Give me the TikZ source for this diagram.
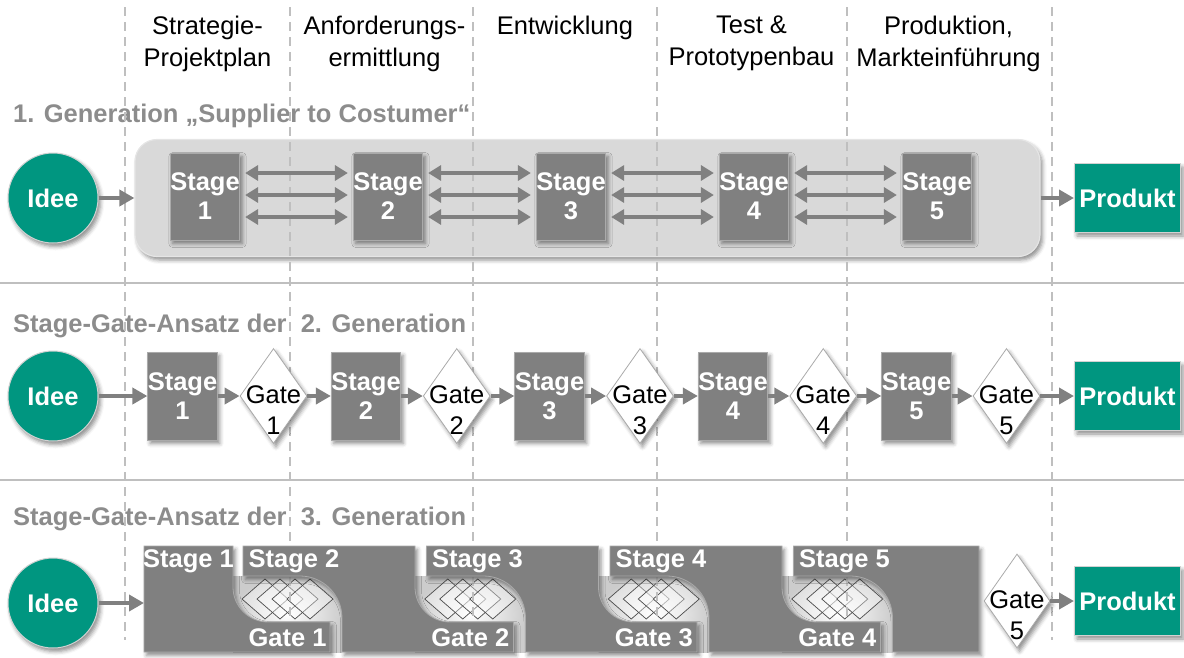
\documentclass[tikz,border=0pt]{standalone}
\usepackage{fontspec}
\setmainfont{Liberation Sans}
\usetikzlibrary{arrows.meta,shapes.geometric,shadows.blur}

\definecolor{teal1}{RGB}{0,150,128}
\definecolor{boxgray}{RGB}{128,128,128}
\definecolor{edgegray}{RGB}{170,170,170}
\definecolor{guidegray}{RGB}{191,191,191}
\definecolor{titlegray}{RGB}{140,140,140}

\newcommand\bigfont{\fontsize{25.5}{31}\selectfont}
\newcommand\boxfont{\fontsize{25.5}{29}\selectfont}
\newcommand\headfont{\fontsize{25.5}{32}\selectfont}

\tikzset{
  softshadow/.style={blur shadow={shadow xshift=2.5pt,shadow yshift=-3.5pt,
      shadow blur radius=4pt,shadow opacity=45}},
  ideenode/.style={circle,fill=teal1,draw=gray!35,line width=1pt,minimum size=90pt,
      inner sep=0pt,text=white,font=\bfseries\bigfont,softshadow},
  prodnode/.style={rectangle,fill=teal1,draw=gray!35,line width=1pt,minimum width=106pt,
      minimum height=69pt,inner sep=0pt,text=white,font=\bfseries\bigfont,softshadow},
  stagebox/.style={rectangle,fill=boxgray,draw=edgegray,line width=0.8pt,minimum width=68pt,
      minimum height=87pt,inner sep=0pt,text=white,font=\bfseries\boxfont,align=center,softshadow},
  gatebox/.style={diamond,fill=white,draw=edgegray,line width=0.8pt,minimum width=67pt,
      minimum height=95pt,inner sep=0pt,softshadow},
  gatetext/.style={font=\bigfont,align=center,anchor=north,inner sep=0pt},
  flow/.style={draw=boxgray,line width=4pt,-{Triangle[length=15pt,width=16pt]}},
  twoway/.style={draw=boxgray,line width=4pt,
      {Triangle[length=13pt,width=15pt]}-{Triangle[length=13pt,width=15pt]}},
  guide/.style={draw=guidegray,line width=2pt,dash pattern=on 9pt off 6pt},
  separator/.style={draw=guidegray,line width=1.5pt},
  heading/.style={font=\headfont,align=center,anchor=north,inner sep=0pt},
  rowtitle/.style={font=\bfseries\bigfont,text=titlegray,anchor=base west,inner sep=0pt},
  gen1box/.style={rectangle,rounded corners=22pt,fill=gray!30,draw=gray!20,line width=1.2pt,
      minimum width=905pt,minimum height=117pt,softshadow},
  block/.style={fill=boxgray,draw=edgegray,line width=0.8pt,softshadow},
  gatezone/.style={inner color=white,outer color=gray!40},
  facet/.style={draw=gray!60!black,line width=0.7pt,fill=white,fill opacity=0.35},
  blocklabel/.style={text=white,font=\bfseries\bigfont,inner sep=0pt},
}

\begin{document}
\begin{tikzpicture}[x=1pt,y=-1pt]
\useasboundingbox (0,0) rectangle (1184,657);

% row separators
\draw[separator] (0,283) -- (1184,283);
\draw[separator] (0,480) -- (1184,480);

% phase headings
\node[heading] (h1) at (207.5,16) {Strategie-\\Projektplan};
\node[heading] (h2) at (384.5,16) {Anforderungs-\\ermittlung};
\node[heading] (h3) at (565,16) {Entwicklung};
\node[heading] (h4) at (751.5,16) {Test \&\\Prototypenbau};
\node[heading] (h5) at (948.5,16) {Produktion,\\Markteinführung};

% row titles
\node[rowtitle] (t1) at (13,122) {1. Generation „Supplier to Costumer“};
\node[rowtitle] (t2) at (13,332) {Stage-Gate-Ansatz der\ \ 2. Generation};
\node[rowtitle] (t3) at (13,525) {Stage-Gate-Ansatz der\ \ 3. Generation};

% ---------- row 1: background container ----------
\node[gen1box] (gen1) at (587.5,198) {};

% ---------- row 3: gate zones with overlapping gate facets ----------
\foreach \zl/\zr in {233/342, 415/525.5, 598.5/709, 782/892.5} {
  \shade[gatezone] (\zl,576) rectangle (\zr,652);
  \pgfmathsetmacro\zc{(\zl+\zr)/2}
  \foreach \d in {-22.5,-7.5,7.5,22.5} {
    \draw[facet] (\zc+\d-23,599) -- (\zc+\d,579) -- (\zc+\d+23,599) -- (\zc+\d,619) -- cycle;
  }
}

% phase boundaries
\foreach \gx in {125,290,473,657,847,1052} {
  \draw[guide] (\gx,7) -- (\gx,640);
}

% ---------- row 1 ----------
\node[ideenode] (idee1) at (53,198) {Idee};
\foreach \k in {1,...,5} {
  \node[stagebox] (a\k) at ({205+183*(\k-1)},196.5) {Stage\\\k};
}
\node[prodnode] (prod1) at (1127.5,198) {Produkt};
\draw[flow] (idee1) -- (gen1.west);
\draw[flow] (gen1.east) -- (prod1.west);
\foreach \k/\n in {1/2,2/3,3/4,4/5} {
  \draw[twoway] ([xshift=5pt,yshift=23.5pt]a\k.east) -- ([xshift=-5pt,yshift=23.5pt]a\n.west);
  \draw[twoway] ([xshift=5pt,yshift=1.5pt]a\k.east) -- ([xshift=-5pt,yshift=1.5pt]a\n.west);
  \draw[twoway] ([xshift=5pt,yshift=-20.5pt]a\k.east) -- ([xshift=-5pt,yshift=-20.5pt]a\n.west);
}

% ---------- row 2 ----------
\node[ideenode] (idee2) at (53,396) {Idee};
\foreach \k in {1,...,5} {
  \node[stagebox,minimum width=69pt,minimum height=88pt] (b\k) at ({182.5+183.5*(\k-1)},396) {Stage\\\k};
  \node[gatebox] (g\k) at ({273.5+183.25*(\k-1)},396) {};
  \node[gatetext] (gl\k) at ({273.5+183.25*(\k-1)},385) {Gate\\\k};
}
\node[prodnode] (prod2) at (1127.5,396) {Produkt};
\draw[flow] (idee2) -- (b1);
\foreach \k/\n in {1/2,2/3,3/4,4/5} {
  \draw[flow] (b\k) -- (g\k);
  \draw[flow] (g\k) -- (b\n);
}
\draw[flow] (b5) -- (g5);
\draw[flow] (g5) -- (prod2);

% ---------- row 3: interlocking stage blocks ----------
% stage 1
\path[block] (144,546) -- (233,546) -- (233,587)
  .. controls (233,606.3) and (248.7,622) .. (268,622)
  -- (330,622) -- (330,652) -- (144,652) -- cycle;
% stages 2 to 4
\foreach \k in {2,3,4} {
  \pgfmathsetmacro\L{243+183.5*(\k-2)}
  \pgfmathsetmacro\B{\L+99}
  \pgfmathsetmacro\R{\L+172}
  \pgfmathsetmacro\G{\L+183.5+99-12}
  \path[block] (\L,546) -- (\R,546) -- (\R,587)
    .. controls (\R,606.3) and (\R+15.7,622) .. (\R+35,622)
    -- (\G,622) -- (\G,652) -- (\B,652) -- (\B,618)
    .. controls (\B,594.8) and (\B-18.8,576) .. (\B-42,576)
    -- (\L,576) -- cycle;
}
% stage 5
\path[block] (793.5,546) -- (979,546) -- (979,652) -- (892.5,652) -- (892.5,618)
  .. controls (892.5,594.8) and (873.7,576) .. (850.5,576)
  -- (793.5,576) -- cycle;

\node[blocklabel] (c1) at (188.5,561) {Stage 1};
\foreach \k in {2,...,5} {
  \node[blocklabel,anchor=west] (c\k) at ({248.5+183.5*(\k-2)},561) {Stage \k};
}
\foreach \k/\zc in {1/287.5,2/470.25,3/653.75,4/837.25} {
  \node[blocklabel] (d\k) at (\zc,638) {Gate \k};
}

\node[ideenode] (idee3) at (53,603) {Idee};
\coordinate (c1in) at (144,603);
\node[gatebox,minimum width=66pt,minimum height=94pt] (g35) at (1017,601) {};
\node[gatetext] (gl35) at (1017,590) {Gate\\5};
\node[prodnode] (prod3) at (1127.5,601) {Produkt};
\draw[flow] (idee3) -- (c1in);
\draw[flow] (g35) -- (prod3);

\end{tikzpicture}
\end{document}
